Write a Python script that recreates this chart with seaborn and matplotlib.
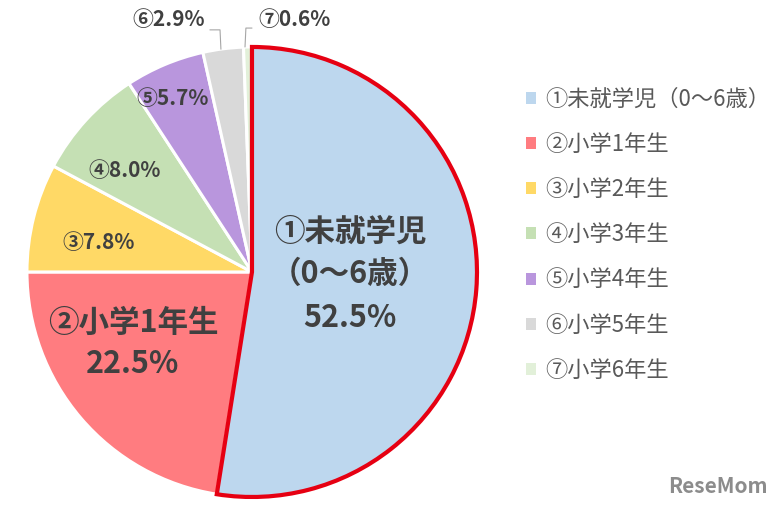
import matplotlib
matplotlib.use("Agg")
import matplotlib.pyplot as plt
from matplotlib.patches import Patch
import seaborn as sns

# data
categories = ["①未就学児（0～6歳）", "②小学1年生", "③小学2年生", "④小学3年生",
              "⑤小学4年生", "⑥小学5年生", "⑦小学6年生"]
shares = [52.5, 22.5, 7.8, 8.0, 5.7, 2.9, 0.6]
colors = ["#BDD7EE", "#FF7C80", "#FFD966", "#C5E0B4", "#B996DD", "#D9D9D9", "#E2F0D9"]

sns.set_theme(style="white")
plt.rcParams["font.family"] = ["Noto Sans CJK JP", "DejaVu Sans"]

fig = plt.figure(figsize=(7.84, 5.12), dpi=100)
ax = fig.add_axes([0.0344, 0.0293, 0.574, 0.879])

wedges, _ = ax.pie(shares, colors=colors, startangle=90, counterclock=False,
                   wedgeprops=dict(edgecolor="white", linewidth=2.2))
wedges[0].set_edgecolor("#E60012")
wedges[0].set_linewidth(3)
wedges[0].set_zorder(5)
ax.set_xlim(-1, 1)
ax.set_ylim(-1, 1)
ax.set_aspect("equal")

txt = "#404040"
big = dict(ha="center", va="center", fontsize=22, fontweight="bold", color=txt, zorder=10)
small = dict(ha="center", va="center", fontsize=15, fontweight="bold", color=txt, zorder=10)

ax.text(0.436, 0.178, "①未就学児", **big)
ax.text(0.436, -0.009, "（0～6歳）", **big)
ax.text(0.436, -0.204, f"{shares[0]}%", **big)
ax.text(-0.529, -0.227, "②小学1年生", **big)
ax.text(-0.529, -0.409, f"{shares[1]}%", **big)
ax.text(-0.68, 0.129, f"③{shares[2]}%", **small)
ax.text(-0.564, 0.453, f"④{shares[3]}%", **small)
ax.text(-0.351, 0.773, f"⑤{shares[4]}%", **small)
ax.text(-0.369, 1.12, f"⑥{shares[5]}%", clip_on=False, **small)
ax.text(0.187, 1.12, f"⑦{shares[6]}%", clip_on=False, **small)

# leader lines for the two thin slices
ax.plot([-0.187, -0.142, -0.138], [1.076, 1.076, 0.99], color="#A6A6A6", lw=0.8, clip_on=False)
ax.plot([0.0, -0.027, -0.031], [1.084, 1.084, 1.0], color="#A6A6A6", lw=0.8, clip_on=False)

handles = [Patch(facecolor=c, edgecolor="none") for c in colors]
fig.legend(handles, categories, loc="upper left", bbox_to_anchor=(0.645, 0.868),
           frameon=False, fontsize=16, labelcolor="#595959",
           handlelength=0.45, handleheight=0.45, handletextpad=0.42, labelspacing=1.0)

fig.text(0.916, 0.049, "ReseMom", ha="center", va="center", fontsize=15,
         fontweight="bold", color="#8C8C8C")

fig.savefig("out.png", dpi=100)
